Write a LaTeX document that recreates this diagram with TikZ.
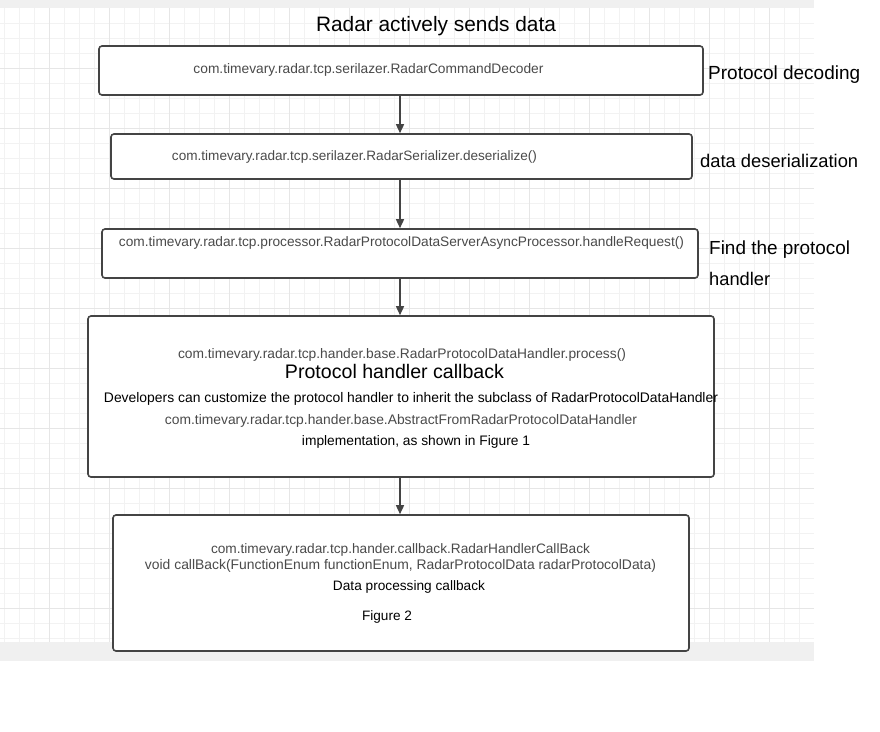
\documentclass[tikz,border=0pt]{standalone}
\usepackage{fontspec}
\usepackage{graphicx}
\setmainfont{Liberation Sans}
\usetikzlibrary{arrows.meta}
\definecolor{gridminor}{HTML}{F2F2F2}
\definecolor{gridmajor}{HTML}{E6E6E6}
\definecolor{strip}{HTML}{F0F0F0}
\definecolor{boxline}{HTML}{444444}
\definecolor{codegray}{HTML}{4A4A4A}
\newcommand{\fitw}[2]{\resizebox{#1pt}{!}{#2}}
\tikzset{
  stepbox/.style={draw=boxline, line width=1.6pt, rounded corners=3pt, fill=white, inner sep=0pt},
  code/.style={inner sep=0pt, text=codegray},
  plain/.style={inner sep=0pt, text=black},
  side/.style={inner sep=0pt, text=black, anchor=west},
  arr/.style={draw=boxline, line width=1.5pt, -{Triangle[length=9pt,width=8pt]}},
}
\begin{document}
\begin{tikzpicture}[x=1pt,y=-1pt]
\useasboundingbox (0,0) rectangle (880,731);
\fill[white] (0,0) rectangle (880,731);
% canvas strips
\fill[strip] (0,0) rectangle (814,8);
\fill[strip] (0,642) rectangle (814,661);
% grid
\foreach \i in {0,...,53} {\draw[gridminor, line width=1pt] ({4.67+15*\i},8) -- ({4.67+15*\i},642);}
\foreach \i in {1,...,42} {\draw[gridminor, line width=1pt] (0,{8.3+15*\i}) -- (814,{8.3+15*\i});}
\foreach \i in {0,...,12} {\draw[gridmajor, line width=1pt] ({49.33+60*\i},8) -- ({49.33+60*\i},642);}
\foreach \i in {1,...,10} {\draw[gridmajor, line width=1pt] (0,{8.3+60*\i}) -- (814,{8.3+60*\i});}

% title
\node[plain] (title) at (436,26) {\fitw{240}{Radar actively sends data}};

% boxes
\node[stepbox, minimum width=604pt, minimum height=49pt] (b1) at (401,70.5) {};
\node[stepbox, minimum width=581pt, minimum height=45pt] (b2) at (401.5,156.5) {};
\node[stepbox, minimum width=596pt, minimum height=49pt] (b3) at (400,253.5) {};
\node[stepbox, minimum width=626pt, minimum height=161pt] (b4) at (401,396.5) {};
\node[stepbox, minimum width=576pt, minimum height=136pt] (b5) at (401,583) {};

% connectors
\draw[arr] (b1.south -| 400,0) -- (b2.north -| 400,0);
\draw[arr] (b2.south -| 400,0) -- (b3.north -| 400,0);
\draw[arr] (b3.south -| 400,0) -- (b4.north -| 400,0);
\draw[arr] (b4.south -| 400,0) -- (b5.north -| 400,0);

% box texts
\node[code] (t1) at (368.5,70) {\fitw{350}{com.timevary.radar.tcp.serilazer.RadarCommandDecoder}};
\node[code] (t2) at (354.5,156.5) {\fitw{365}{com.timevary.radar.tcp.serilazer.RadarSerializer.deserialize()}};
\node[code] (t3) at (401.5,243) {\fitw{565}{com.timevary.radar.tcp.processor.RadarProtocolDataServerAsyncProcessor.handleRequest()}};

\node[code] (t4a) at (402,355) {\fitw{448}{com.timevary.radar.tcp.hander.base.RadarProtocolDataHandler.process()}};
\node[plain] (t4b) at (394.5,371) {\fitw{219}{Protocol handler callback}};
\node[plain] (t4c) at (411,399) {\fitw{614}{Developers can customize the protocol handler to inherit the subclass of RadarProtocolDataHandler}};
\node[code] (t4d) at (401,421) {\fitw{472}{com.timevary.radar.tcp.hander.base.AbstractFromRadarProtocolDataHandler}};
\node[plain] (t4e) at (416,442) {\fitw{228}{implementation, as shown in Figure 1}};

\node[code] (t5a) at (400.5,550) {\fitw{379}{com.timevary.radar.tcp.hander.callback.RadarHandlerCallBack}};
\node[code] (t5b) at (400.5,566) {\fitw{511}{void callBack(FunctionEnum functionEnum, RadarProtocolData radarProtocolData)}};
\node[plain] (t5c) at (409,587) {\fitw{152}{Data processing callback}};
\node[plain] (t5d) at (387,617) {\fitw{50}{Figure 2}};

% side labels
\node[side] (s1) at (708,75) {\fitw{152}{Protocol decoding}};
\node[side] (s2) at (700,161) {\fitw{158}{data deserialization}};
\node[side] (s3) at (709,250) {\fitw{141}{Find the protocol}};
\node[side] (s4) at (709,279) {\fitw{61}{handler}};
\end{tikzpicture}
\end{document}
